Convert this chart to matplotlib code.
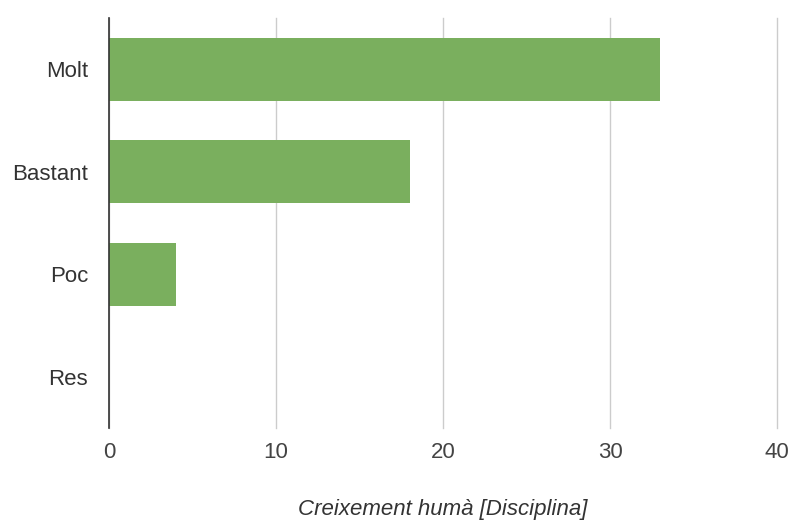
import matplotlib
matplotlib.use("Agg")
import matplotlib.pyplot as plt

# data
categories = ["Molt", "Bastant", "Poc", "Res"]
values = [33, 18, 4, 0]
x_ticks = [0, 10, 20, 30, 40]
x_label = "Creixement humà [Disciplina]"

plt.rcParams["font.family"] = ["Liberation Sans", "DejaVu Sans"]

fig = plt.figure(figsize=(7.93, 5.24), dpi=100)
ax = fig.add_axes([109 / 793, 1 - 428 / 524, (777 - 109) / 793, (428 - 18) / 524])

ypos = list(range(len(categories)))
ax.barh(ypos, values, height=0.61, color="#7aaf5e", zorder=2)

ax.set_xlim(0, 40)
ax.set_ylim(3.5, -0.5)
ax.set_xticks(x_ticks)
ax.set_yticks(ypos)
ax.set_yticklabels(categories)

ax.grid(axis="x", color="#cccccc", linewidth=1, zorder=0)
for line in ax.get_xgridlines():
    line.set_clip_on(False)
for s in ["top", "right", "bottom"]:
    ax.spines[s].set_visible(False)
ax.spines["left"].set_color("#333333")
ax.spines["left"].set_linewidth(1.2)
ax.spines["left"].set_zorder(3)

ax.tick_params(axis="both", length=0, labelsize=16)
ax.tick_params(axis="y", pad=15, labelcolor="#333333")
ax.tick_params(axis="x", pad=10, labelcolor="#444444")

ax.set_xlabel(x_label, fontsize=16, style="italic", color="#333333")
ax.xaxis.set_label_coords(0.5, -0.2)
ax.xaxis.label.set_va("center")

fig.savefig("out.png", dpi=100)
